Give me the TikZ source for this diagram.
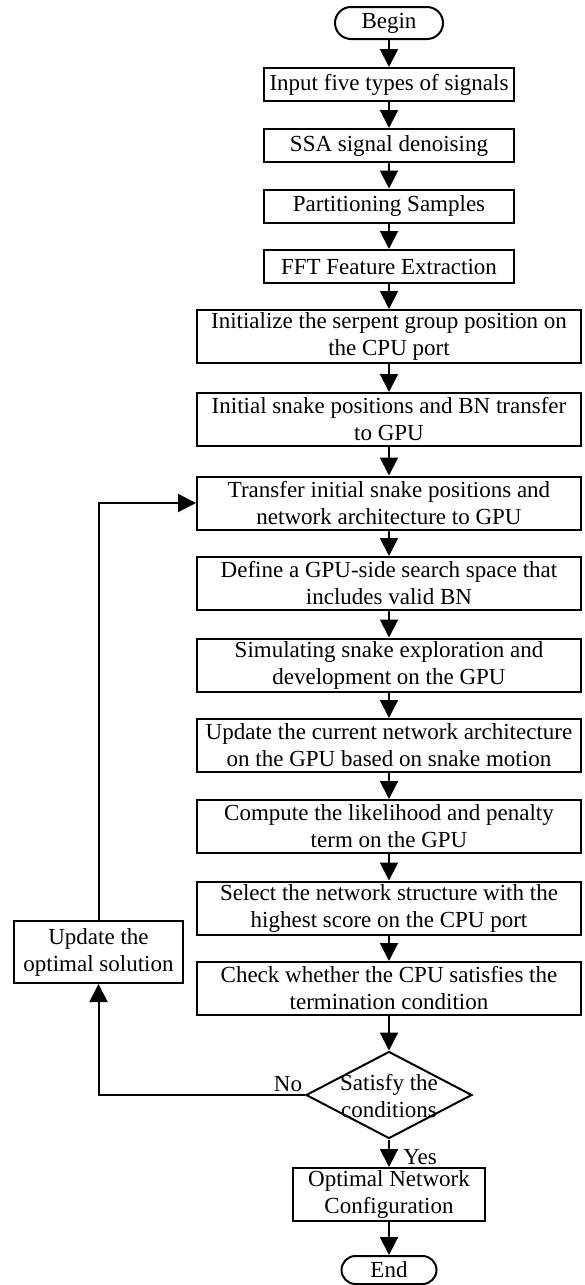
\documentclass[tikz,border=0pt]{standalone}
\usepackage{fontspec}
\setmainfont{Liberation Serif}
\usetikzlibrary{arrows.meta,shapes.geometric}

\tikzset{
  proc/.style={draw=black, line width=1pt, inner sep=0pt, align=center,
    minimum width=125pt, minimum height=16.5pt},
  wideproc/.style={proc, minimum width=192pt, minimum height=26.5pt},
  termnode/.style={draw=black, line width=1pt, inner sep=0pt, rounded corners=8pt,
    minimum width=54pt, minimum height=16pt},
  decision/.style={draw=black, line width=1pt, diamond, inner sep=0pt,
    minimum width=83pt, minimum height=43.5pt},
  flow/.style={black, line width=1pt, -{Triangle[length=9pt,width=9pt]}}
}

\begin{document}
\begin{tikzpicture}[x=0.5pt,y=-0.5pt]
            \tikzset{every node/.append style={font=\fontsize{11.5}{13.5}\selectfont}}
            \useasboundingbox (0,0) rectangle (584,1285);
            \node [termnode] (begin) at (389,23) {Begin};
            \node [proc] (input) at (389,84.5) {Input five types of signals};
            \node [proc] (ssa) at (389,145.5) {SSA signal denoising};
            \node [proc] (part) at (389,206) {Partitioning Samples};
            \node [proc] (fft) at (389,266.5) {FFT Feature Extraction};
            \node [wideproc] (init) at (389,336.5) {Initialize the serpent group position on\\the CPU port};
            \node [wideproc] (snake) at (389,419.5) {Initial snake positions and BN transfer\\to GPU};
            \node [wideproc] (transfer) at (389,503) {Transfer initial snake positions and\\network architecture to GPU};
            \node [wideproc] (define) at (389,583.5) {Define a GPU-side search space that\\includes valid BN};
            \node [wideproc] (simul) at (389,665) {Simulating snake exploration and\\development on the GPU};
            \node [wideproc] (updcur) at (389,745.5) {Update the current network architecture\\on the GPU based on snake motion};
            \node [wideproc] (compute) at (389,826.5) {Compute the likelihood and penalty\\term on the GPU};
            \node [wideproc] (select) at (389,908) {Select the network structure with the\\highest score on the CPU port};
            \node [wideproc] (check) at (389,988.5) {Check whether the CPU satisfies the\\termination condition};
            \node [decision] (cond) at (389,1095) {};
            \node [align=center] (condtext) at (389,1096) {Satisfy the\\conditions};
            \node [proc, minimum width=96pt, minimum height=26.5pt] (optim) at (389,1194.5) {Optimal Network\\Configuration};
            \node [termnode, minimum width=47.5pt, minimum height=14pt, rounded corners=7pt] (theend) at (389,1270) {End};
            \node [proc, minimum width=84.5pt, minimum height=31pt] (updopt) at (98.5,952) {Update the\\optimal solution};
            \node (nolbl) at (288,1084) {No};
            \node (yeslbl) at (420,1157) {Yes};
            \draw [flow] (begin) -- (input);
            \draw [flow] (input) -- (ssa);
            \draw [flow] (ssa) -- (part);
            \draw [flow] (part) -- (fft);
            \draw [flow] (fft) -- (init);
            \draw [flow] (init) -- (snake);
            \draw [flow] (snake) -- (transfer);
            \draw [flow] (transfer) -- (define);
            \draw [flow] (define) -- (simul);
            \draw [flow] (simul) -- (updcur);
            \draw [flow] (updcur) -- (compute);
            \draw [flow] (compute) -- (select);
            \draw [flow] (select) -- (check);
            \draw [flow] (check) -- (cond);
            \draw [flow] (cond) -- (optim);
            \draw [flow] (optim) -- (theend);
            \draw [flow] (cond.west) -| (updopt.south);
            \draw [flow] (updopt.north) |- (transfer.west);
        \end{tikzpicture}
\end{document}
